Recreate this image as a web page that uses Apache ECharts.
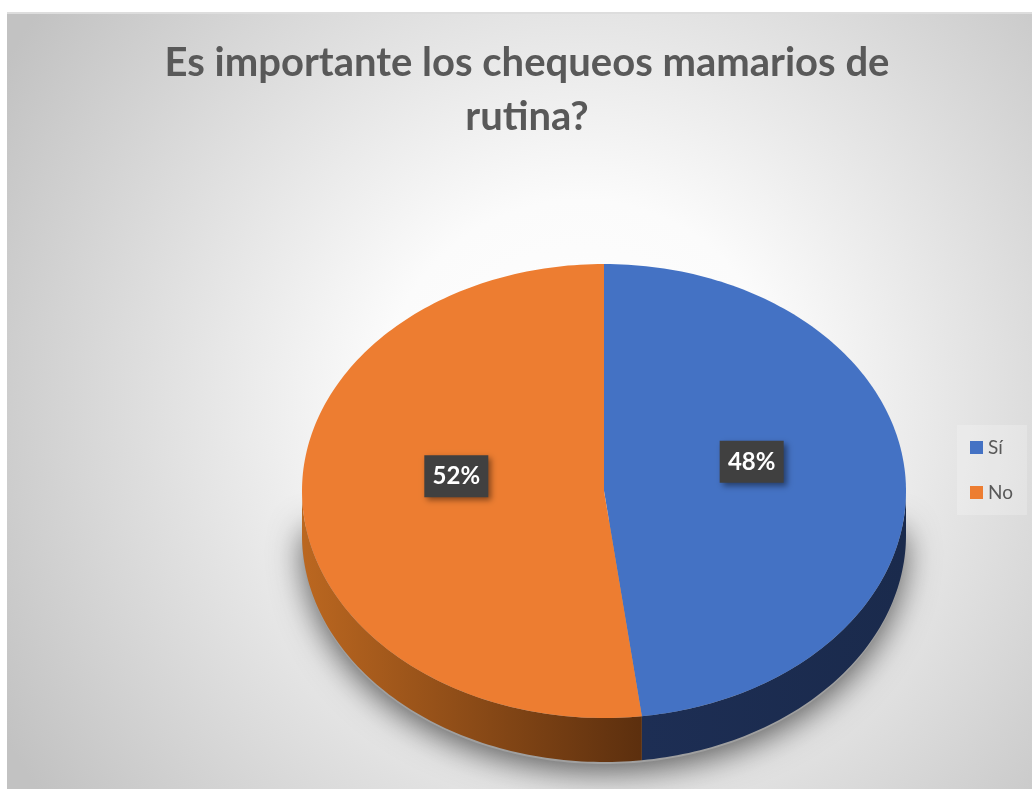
<!DOCTYPE html>
<html><head><meta charset="utf-8">
<script src="https://cdn.jsdelivr.net/npm/echarts@6/dist/echarts.min.js"></script>
<style>html,body{margin:0;padding:0;background:#fff}#c{width:1032px;height:789px}</style>
</head><body><div id="c"></div>
<script>
// ---- data ----
const categories = ['Sí', 'No'];
const values = [48, 52];
const titleText = 'Es importante los chequeos mamarios de\nrutina?';

// ---- styles ----
const sliceColors = ['#4472C4', '#ED7D31'];
const sideFills = [
  new echarts.graphic.LinearGradient(0, 0, 1, 0, [{offset: 0, color: '#1d2e54'}, {offset: 1, color: '#1a2a4c'}]),
  new echarts.graphic.LinearGradient(0, 0, 1, 0, [{offset: 0, color: '#bb6720'}, {offset: 1, color: '#5c2f0e'}])
];
const G = {cx: 604, cy: 491, rx: 302, ry: 227, depth: 44};

const total = values.reduce((a, b) => a + b, 0);
const starts = [];
let acc = 0;
values.forEach(v => { starts.push(acc); acc += v; });

function pt(t, dy) { return [G.cx + G.rx * Math.sin(t), G.cy - G.ry * Math.cos(t) + (dy || 0)]; }
function arcPts(a1, a2, dy) {
  const n = Math.max(2, Math.ceil((a2 - a1) / 0.02));
  const p = [];
  for (let i = 0; i <= n; i++) p.push(pt(a1 + (a2 - a1) * i / n, dy));
  return p;
}

function makeRender(idx) {
  return function (params, api) {
    const v = api.value(0);
    const a1 = starts[idx] / total * 2 * Math.PI;
    const a2 = a1 + v / total * 2 * Math.PI;
    const children = [];
    if (idx === 0) {
      const sh = arcPts(Math.PI / 2, 3 * Math.PI / 2, G.depth + 2);
      sh.push([G.cx - G.rx + 6, G.cy + 30], [G.cx + G.rx - 6, G.cy + 30]);
      children.push({
        type: 'polygon', z2: 0, shape: {points: sh},
        style: {fill: '#a0a0a0', shadowBlur: 32, shadowColor: 'rgba(0,0,0,0.6)', shadowOffsetY: 8}
      });
    }
    const b1 = Math.max(a1, Math.PI / 2), b2 = Math.min(a2, 3 * Math.PI / 2);
    if (b2 > b1) {
      const top = arcPts(b1, b2, 0);
      const bot = arcPts(b1, b2, G.depth).reverse();
      children.push({type: 'polygon', z2: 2, shape: {points: top.concat(bot)}, style: {fill: sideFills[idx]}});
    }
    children.push({type: 'polygon', z2: 5, shape: {points: [[G.cx, G.cy]].concat(arcPts(a1, a2, 0))},
      style: {fill: sliceColors[idx]}});
    const mid = (a1 + a2) / 2;
    const lx = G.cx + 0.49 * G.rx * Math.sin(mid);
    const ly = G.cy - 0.5 * G.ry * Math.cos(mid) - 22;
    children.push({
      type: 'rect', z2: 20,
      shape: {x: lx - 32, y: ly - 21, width: 64, height: 42},
      style: {fill: '#404040', shadowBlur: 6, shadowColor: 'rgba(0,0,0,0.45)', shadowOffsetX: 3, shadowOffsetY: 3},
      textContent: {style: {text: Math.round(v / total * 100) + '%', fill: '#ffffff', font: 'bold 24px Lato'}},
      textConfig: {position: 'inside'}
    });
    return {type: 'group', children: children};
  };
}

const chart = echarts.init(document.getElementById('c'));
chart.setOption({
  animation: false,
  graphic: [{
    type: 'rect', z: -10, shape: {x: 7, y: 12, width: 1025, height: 777},
    style: {fill: new echarts.graphic.RadialGradient(0.56, 0.5, 0.86, [
      {offset: 0, color: '#ffffff'}, {offset: 0.3, color: '#fbfbfb'}, {offset: 1, color: '#c2c2c2'}])}
  }, {
    type: 'rect', z: -9, shape: {x: 7, y: 12, width: 1025, height: 2}, style: {fill: '#dddddd'}
  }],
  title: {
    text: titleText, left: 527, top: 36, textAlign: 'center', padding: 0,
    textStyle: {fontSize: 40, fontWeight: 'bold', color: '#595959', fontFamily: 'Lato', lineHeight: 54}
  },
  legend: {
    orient: 'vertical', left: 957, top: 425, icon: 'rect', itemWidth: 13, itemHeight: 13, itemGap: 26,
    padding: [13, 14, 13, 13], backgroundColor: 'rgba(255,255,255,0.22)',
    data: categories,
    textStyle: {fontSize: 19, color: '#595959', fontFamily: 'Lato'}
  },
  series: categories.map((name, i) => ({
    type: 'custom', name: name, coordinateSystem: 'none',
    itemStyle: {color: sliceColors[i]},
    data: [[values[i]]],
    renderItem: makeRender(i)
  }))
});
</script></body></html>
